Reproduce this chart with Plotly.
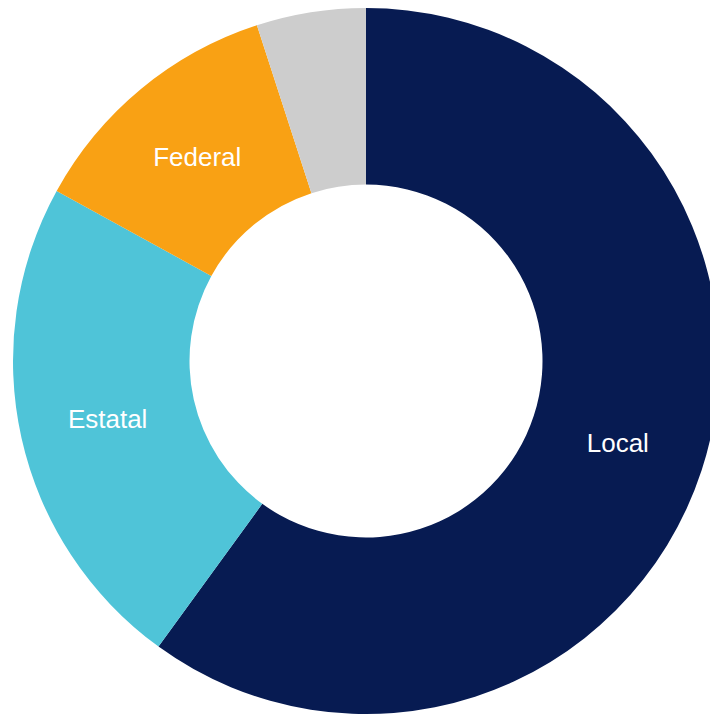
import plotly.graph_objects as go

labels = ["Local", "Estatal", "Federal", "Otros"]
values = [60, 23, 12, 5]
text_labels = ["Local", "Estatal", "Federal", ""]
colors = ["#071B52", "#4FC4D8", "#F9A114", "#CDCDCD"]

W, H = 719, 714
fig = go.Figure(go.Pie(
    labels=labels,
    values=values,
    text=text_labels,
    textinfo="text",
    textposition="inside",
    insidetextorientation="horizontal",
    hole=0.5,
    sort=False,
    direction="clockwise",
    rotation=0,
    marker=dict(colors=colors, line=dict(width=0)),
    textfont=dict(family="Liberation Sans, Arial, sans-serif", size=26, color="white"),
    domain=dict(x=[13 / W, 1], y=[0, 706 / H]),
    hoverinfo="label+percent",
    showlegend=False,
))
fig.update_layout(
    width=W, height=H,
    margin=dict(l=0, r=0, t=0, b=0),
    paper_bgcolor="white",
    plot_bgcolor="white",
    showlegend=False,
)
fig.write_html(
    "out.html",
    config={"displayModeBar": False},
    post_script="document.body.style.margin='0';document.body.style.overflow='hidden';document.documentElement.style.overflow='hidden';",
)
